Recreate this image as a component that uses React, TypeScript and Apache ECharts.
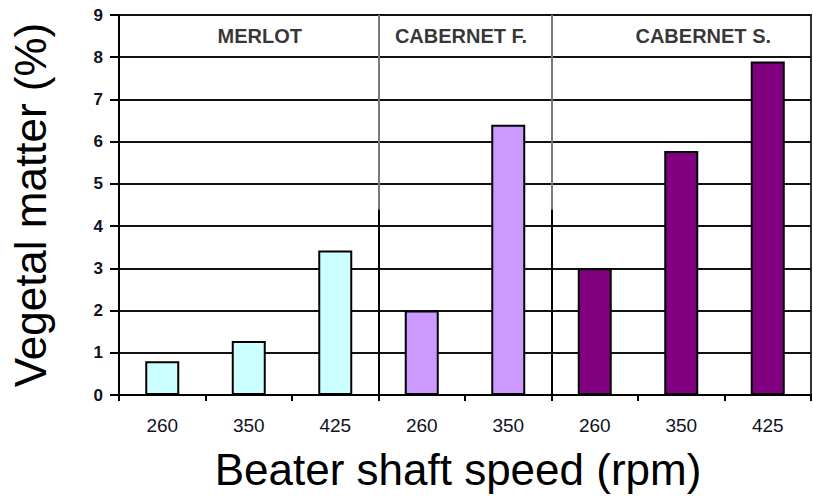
import React, { useEffect, useRef } from "react";
import * as echarts from "echarts";

const groupNames = ["MERLOT", "CABERNET F.", "CABERNET S."];
const groupSpeeds = [
  ["260", "350", "425"],
  ["260", "350"],
  ["260", "350", "425"],
];
const groupValues = [
  [0.8, 1.28, 3.42],
  [2.0, 6.4],
  [3.0, 5.78, 7.9],
];
const groupColors = ["#CCFFFF", "#CC99FF", "#800080"];
const yMin = 0;
const yMax = 9;
const yStep = 1;

export default function App() {
  const ref = useRef<HTMLDivElement>(null);

  useEffect(() => {
    document.body.style.margin = "0";
    if (!ref.current) return;
    const chart = echarts.init(ref.current, null, { renderer: "svg" });

    const categories: string[] = [];
    const barData: any[] = [];
    const bounds: number[] = [];
    const centers: number[] = [];
    let idx = 0;
    groupSpeeds.forEach((speeds, g) => {
      const start = idx;
      speeds.forEach((s, i) => {
        categories.push(s);
        barData.push({
          value: groupValues[g][i],
          itemStyle: { color: groupColors[g] },
        });
        idx++;
      });
      centers.push((start + idx) / 2);
      bounds.push(idx);
    });
    const total = idx;

    const labelOffsets = [[11, 0], [-4, 0], [22, 0]];
    const labelData = groupNames.map((name, g) => ({
      value: [centers[g], 8.5],
      name,
      label: { offset: labelOffsets[g] },
    }));

    const sepLines: any[] = [];
    bounds.slice(0, -1).forEach((b) => {
      sepLines.push([
        { coord: [b, 0], lineStyle: { color: "#000", width: 2, type: "solid" } },
        { coord: [b, 4.4] },
      ]);
      sepLines.push([
        { coord: [b, 4.4], lineStyle: { color: "#7a7a7a", width: 2, type: "solid" } },
        { coord: [b, 9] },
      ]);
    });

    const fontFamily = "'Liberation Sans', Arial, sans-serif";

    chart.setOption({
      animation: false,
      backgroundColor: "#ffffff",
      grid: {
        left: 118,
        right: 2,
        top: 15,
        bottom: 100,
        containLabel: false,
        show: true,
        borderColor: "#333",
        borderWidth: 2,
      },
      xAxis: [
        {
          type: "category",
          data: categories,
          name: "Beater shaft speed (rpm)",
          nameLocation: "middle",
          nameGap: 52,
          nameTextStyle: { fontFamily, fontSize: 44, color: "#000", padding: [0, 14, 0, 0] },
          axisLine: { show: true, lineStyle: { color: "#000", width: 2 } },
          axisTick: { show: true, length: 6, lineStyle: { color: "#000", width: 2 } },
          axisLabel: {
            margin: 21,
            fontFamily,
            fontSize: 19,
            color: "#111122",
          },
          splitLine: { show: false },
        },
        {
          type: "value",
          min: 0,
          max: total,
          show: false,
        },
      ],
      yAxis: {
        type: "value",
        min: yMin,
        max: yMax,
        interval: yStep,
        name: "Vegetal matter (%)",
        nameLocation: "middle",
        nameRotate: 90,
        nameGap: 67,
        nameTextStyle: { fontFamily, fontSize: 44, color: "#000" },
        axisLine: { show: true, lineStyle: { color: "#000", width: 2 } },
        axisTick: { show: true, length: 9, lineStyle: { color: "#000", width: 2 } },
        axisLabel: {
          margin: 16,
          fontFamily,
          fontSize: 17,
          fontWeight: "bold",
          color: "#111122",
        },
        splitLine: { show: true, lineStyle: { color: "#111", width: 2 } },
      },
      series: [
        {
          type: "bar",
          xAxisIndex: 0,
          yAxisIndex: 0,
          data: barData,
          barWidth: 34,
          itemStyle: { borderColor: "#000", borderWidth: 2 },
        },
        {
          type: "scatter",
          xAxisIndex: 1,
          yAxisIndex: 0,
          clip: false,
          symbolSize: 0,
          silent: true,
          data: labelData,
          label: {
            show: true,
            position: "inside",
            formatter: (p: any) => p.name,
            fontFamily,
            fontSize: 20,
            fontWeight: "bold",
            color: "#000",
          },
          markLine: {
            silent: true,
            symbol: "none",
            label: { show: false },
            animation: false,
            data: sepLines,
          },
        },
      ],
    });

    return () => chart.dispose();
  }, []);

  return <div ref={ref} style={{ width: 813, height: 496 }} />;
}
